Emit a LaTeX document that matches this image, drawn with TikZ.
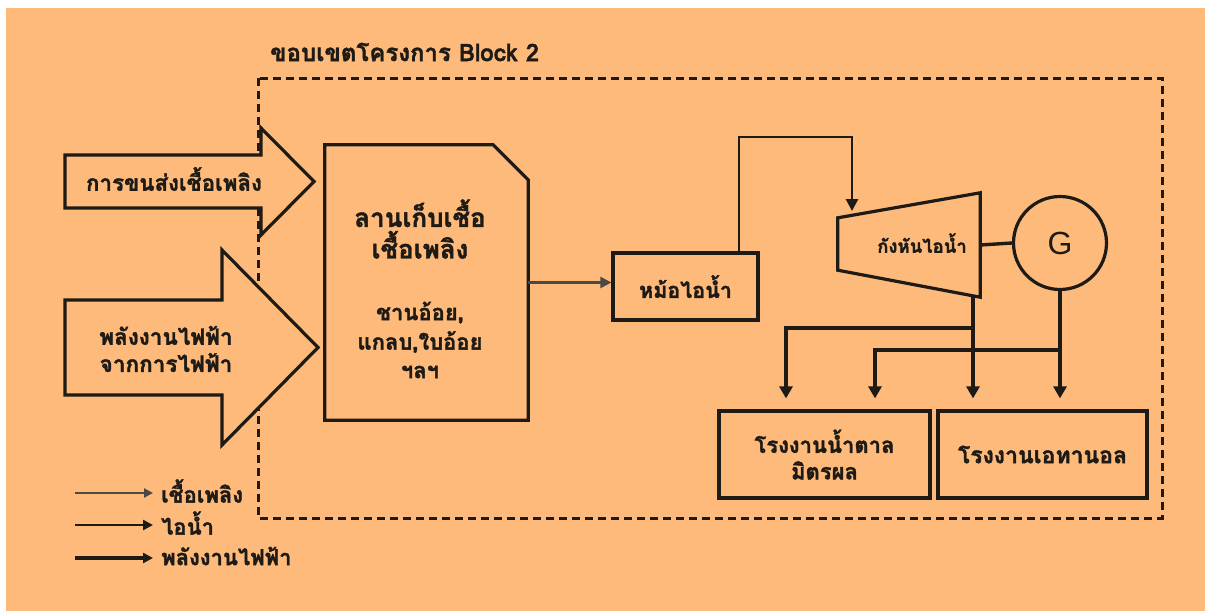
\documentclass[tikz,border=0pt]{standalone}
\usepackage{fontspec}
\newfontfamily\thai[Script=Thai,BoldFeatures={FakeBold=1.5}]{Loma}
\setsansfont{Liberation Sans}
\usetikzlibrary{arrows.meta,calc}
\definecolor{bgor}{RGB}{253,186,122}
\definecolor{ink}{RGB}{30,26,22}
\newcommand\fsz[1]{\thai\bfseries\fontsize{#1}{1.25\dimexpr#1pt\relax}\selectfont}
\begin{document}
\begin{tikzpicture}[x=1pt,y=-1pt,
  boxline/.style={draw=ink,line width=3.2pt},
  lbl/.style={text=ink,font=\fsz{21},align=center,inner sep=0pt},
  fuelarr/.style={draw=ink!80,line width=2.2pt,-{Triangle[length=11pt,width=11pt]}},
  steamarr/.style={draw=ink,line width=2.8pt,-{Triangle[length=12pt,width=12pt]}},
  elecarr/.style={draw=ink,line width=3.1pt,-{Triangle[length=12pt,width=13pt]},shorten >=11pt},
  bound/.style={draw=ink,line width=3pt,dash pattern=on 8pt off 5pt}]
\useasboundingbox (0,0) rectangle (1205,611);
\fill[white] (0,0) rectangle (1205,611);
\fill[bgor] (6,8) rectangle (1205,611);
% title and project boundary
\node[lbl,anchor=west,font=\fsz{24}] (title) at (270,52) {ขอบเขตโครงการ Block 2};
\draw[bound] (258,78) rectangle (1162,518);
% big input arrows
\draw[boxline,fill=bgor] (65,155) -- (261,155) -- (261,128) -- (314,181.5) -- (261,235) -- (261,208) -- (65,208) -- cycle;
\node[lbl,font=\fsz{22.3}] (transport) at (174,179) {การขนส่งเชื้อเพลิง};
\draw[boxline,fill=bgor] (65,300) -- (222,300) -- (222,250) -- (318,347.5) -- (222,445) -- (222,395) -- (65,395) -- cycle;
\node[lbl,font=\fsz{22.5}] (grid) at (166,349) {พลังงานไฟฟ้า\\[-1pt]จากการไฟฟ้า};
% storage yard
\node[minimum width=203pt,minimum height=275pt,inner sep=0pt] (store) at (426.5,282.5) {};
\draw[boxline] (store.south west) -- (store.north west) -- ([xshift=-35pt]store.north east) -- ([yshift=-35pt]store.north east) -- (store.south east) -- cycle;
\node[lbl,font=\fsz{26}] (storetitle) at (420,229) {ลานเก็บเชื้อ\\[-1pt]เชื้อเพลิง};
\node[lbl,font=\fsz{22}] (storeitems) at (420,340) {ชานอ้อย,\\[2pt]แกลบ,ใบอ้อย\\[1pt]ฯลฯ};
% boiler
\node[boxline,lbl,font=\fsz{21.5},minimum width=145pt,minimum height=67pt] (boiler) at (685.5,286.5) {หม้อไอน้ำ};
\draw[fuelarr] (store.east) -- (store.east -| boiler.west);
% turbine
\node[minimum width=142pt,minimum height=104pt,inner sep=0pt] (turb) at (909,245) {};
\draw[boxline] ([yshift=-25pt]turb.north west) -- (turb.north east) -- (turb.south east) -- ([yshift=27pt]turb.south west) -- cycle;
\node[lbl,font=\fsz{18.5}] (turbtext) at (922,243) {กังหันไอน้ำ};
% steam line
\coordinate (s1) at (739,137);
\coordinate (s2) at (852,137);
\draw[steamarr] (s1 |- boiler.north) -- (s1) -- (s2) -- (852,211);
% generator
\node[boxline,circle,minimum size=93pt,inner sep=0pt,text=ink,font=\sffamily\fontsize{32}{32}\selectfont] (gen) at (1060,243) {G};
\draw[draw=ink,line width=3.4pt] (turb.east) -- (gen.west);
% factories
\node[boxline,lbl,font=\fsz{22},minimum width=211pt,minimum height=87pt] (sugar) at (824.5,454.5) {โรงงานน้ำตาล\\[-1pt]มิตรผล};
\node[boxline,lbl,font=\fsz{23},minimum width=209pt,minimum height=87pt] (ethanol) at (1042.5,454.5) {โรงงานเอทานอล};
% electricity distribution
\coordinate (tb) at (973,297);
\coordinate (b1) at (973,328);
\coordinate (b2) at (1060,350);
\draw[elecarr] (tb) -- (tb |- ethanol.north);
\draw[elecarr] (gen.south) -- (gen.south |- ethanol.north);
\draw[elecarr] (b1) -| ([xshift=-38.5pt]sugar.north);
\draw[elecarr] (b2) -| ([xshift=50.5pt]sugar.north);
% legend
\coordinate (l1) at (75,493); \coordinate (l1e) at (153,493);
\coordinate (l2) at (75,525); \coordinate (l2e) at (153,525);
\coordinate (l3) at (75,558); \coordinate (l3e) at (153,558);
\draw[fuelarr,-{Triangle[length=9pt,width=9pt]}] (l1) -- (l1e);
\draw[steamarr,-{Triangle[length=10pt,width=10pt]}] (l2) -- (l2e);
\draw[elecarr,shorten >=0pt,-{Triangle[length=10pt,width=10pt]}] (l3) -- (l3e);
\node[lbl,anchor=west,font=\fsz{22}] (lg1) at (161,491) {เชื้อเพลิง};
\node[lbl,anchor=west,font=\fsz{22}] (lg2) at (161,523) {ไอน้ำ};
\node[lbl,anchor=west,font=\fsz{22}] (lg3) at (161,556) {พลังงานไฟฟ้า};
\end{tikzpicture}
\end{document}
